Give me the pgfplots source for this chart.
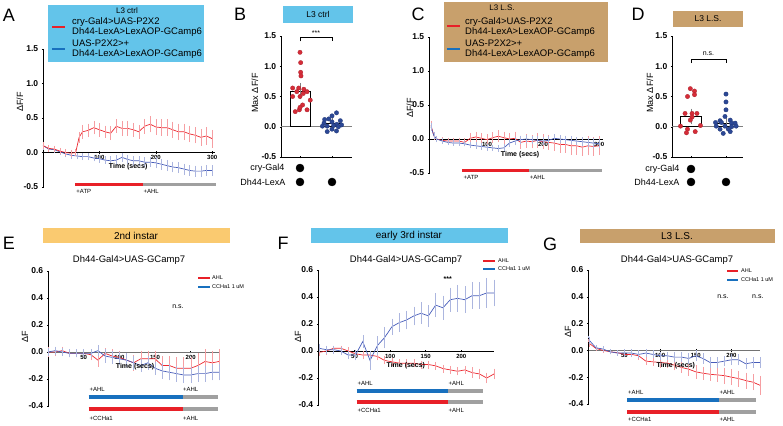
\documentclass[border=0pt]{standalone}
\usepackage{fontspec}
\setmainfont{Liberation Sans}
\usepackage{pgfplots}
\pgfplotsset{compat=1.18}
\definecolor{skyb}{RGB}{99,196,234}
\definecolor{tanb}{RGB}{200,160,108}
\definecolor{orab}{RGB}{250,202,112}
\definecolor{lred}{RGB}{232,32,40}
\definecolor{lblue}{RGB}{24,112,190}
\definecolor{tblue}{RGB}{70,92,185}
\definecolor{tred}{RGB}{236,40,48}
\definecolor{gbar}{RGB}{160,160,160}
\definecolor{dotred}{RGB}{214,44,56}
\definecolor{dotblue}{RGB}{44,72,150}
\newcommand{\fs}[1]{\fontsize{#1}{#1}\selectfont}
\pgfplotsset{
  base/.style={scale only axis, clip=false, tick style={black,line width=0.5pt},
    tick align=outside, major tick length=2.5pt,
    /pgf/number format/assume math mode=true,
    yticklabel style={font=\fs{8.5}\bfseries,/pgf/number format/fixed,/pgf/number format/fixed zerofill,/pgf/number format/precision=1}},
  ts/.style={base, axis y line=left, axis x line=middle,
    x axis line style={-,line width=0.6pt}, y axis line style={-,line width=0.7pt},
    xticklabel style={font=\fs{6}\bfseries, yshift=1.5pt}},
  sc/.style={base, axis y line=left, axis x line=bottom,
    x axis line style={-,line width=0.7pt}, y axis line style={-,line width=0.7pt},
    xtick={1,2}, xticklabels={,}, ymin=-0.5, ymax=1.5, ytick={-0.5,0,0.5,1,1.5}},
  rtrace/.style={tred, line width=0.7pt, mark=none, error bars/.cd, y dir=both, y explicit,
    error bar style={tred!45, line width=0.45pt}, error mark options={tred!45, mark size=1.3pt, line width=0.45pt}},
  btrace/.style={tblue, line width=0.7pt, mark=none, error bars/.cd, y dir=both, y explicit,
    error bar style={tblue!45, line width=0.45pt}, error mark options={tblue!45, mark size=1.3pt, line width=0.45pt}},
  rdots/.style={only marks, mark=*, mark size=2.2pt, mark options={fill=dotred, draw=dotred!80!black, line width=0.3pt}},
  bdots/.style={only marks, mark=*, mark size=2.2pt, mark options={fill=dotblue, draw=dotblue!80!black, line width=0.3pt}},
}
\begin{document}
\begin{tikzpicture}
\path[use as bounding box] (0pt,0pt) rectangle (783pt,-425pt);
% ---------- panel letters
\node[font=\fs{18}] at (9pt,-15pt) {A};
\node[font=\fs{18}] at (240pt,-14pt) {B};
\node[font=\fs{18}] at (418pt,-14pt) {C};
\node[font=\fs{18}] at (638pt,-14pt) {D};
\node[font=\fs{18}] at (9pt,-243pt) {E};
\node[font=\fs{18}] at (283pt,-243pt) {F};
\node[font=\fs{18}] at (550pt,-244pt) {G};
% ---------- boxes
\fill[skyb] (48pt,-5pt) rectangle (204pt,-62pt);
\node[font=\fs{8}] at (127pt,-10.5pt) {L3 ctrl};
\draw[lred, line width=1.6pt] (52pt,-27pt) -- (65pt,-27pt);
\draw[lblue, line width=1.6pt] (52pt,-49pt) -- (65pt,-49pt);
\node[anchor=west, font=\fontsize{9.5}{10.5}\selectfont, align=left, inner sep=0pt] at (72pt,-27pt) {cry-Gal4>UAS-P2X2\\Dh44-LexA>LexAOP-GCamp6};
\node[anchor=west, font=\fontsize{9.5}{10.5}\selectfont, align=left, inner sep=0pt] at (72pt,-49pt) {UAS-P2X2>+\\Dh44-LexA>LexAOP-GCamp6};
\fill[tanb] (444pt,-2pt) rectangle (608pt,-62pt);
\node[font=\fs{8}] at (502pt,-8pt) {L3 L.S.};
\draw[lred, line width=1.6pt] (447pt,-26pt) -- (460pt,-26pt);
\draw[lblue, line width=1.6pt] (447pt,-49pt) -- (460pt,-49pt);
\node[anchor=west, font=\fontsize{9.5}{10.5}\selectfont, align=left, inner sep=0pt] at (465pt,-27pt) {cry-Gal4>UAS-P2X2\\Dh44-LexA>LexAOP-GCamp6};
\node[anchor=west, font=\fontsize{9.5}{10.5}\selectfont, align=left, inner sep=0pt] at (465pt,-49pt) {UAS-P2X2>+\\Dh44-LexA>LexAOP-GCamp6};
\fill[skyb] (283pt,-6pt) rectangle (353pt,-23pt);
\node[font=\fs{8.5}] at (318pt,-14.5pt) {L3 ctrl};
\fill[tanb] (673pt,-11pt) rectangle (743pt,-27pt);
\node[font=\fs{8.5}] at (708pt,-19pt) {L3 L.S.};
\fill[orab] (43pt,-228pt) rectangle (230pt,-243pt);
\node[font=\fs{10}] at (136pt,-235.5pt) {2nd instar};
\fill[skyb] (311pt,-228pt) rectangle (508pt,-243pt);
\node[font=\fs{10}] at (409pt,-235.5pt) {early 3rd instar};
\fill[tanb] (580pt,-229pt) rectangle (775pt,-243pt);
\node[font=\fs{10}] at (677pt,-236pt) {L3 L.S.};
% ---------- titles and axis labels
\node[font=\fs{9.5}] at (129pt,-260pt) {Dh44-Gal4>UAS-GCamp7};
\node[font=\fs{9.5}] at (406pt,-260pt) {Dh44-Gal4>UAS-GCamp7};
\node[font=\fs{9.5}] at (677pt,-260pt) {Dh44-Gal4>UAS-GCamp7};
\node[font=\fs{9}, rotate=90] at (20pt,-102pt) {ΔF/F};
\node[font=\fs{9}, rotate=90] at (410pt,-108pt) {ΔF/F};
\node[font=\fs{9}, rotate=90] at (255pt,-93pt) {Max ΔF/F};
\node[font=\fs{9}, rotate=90] at (650pt,-93pt) {Max ΔF/F};
\node[font=\fs{9}, rotate=90] at (25pt,-337pt) {ΔF};
\node[font=\fs{9}, rotate=90] at (298pt,-337pt) {ΔF};
\node[font=\fs{9}, rotate=90] at (568pt,-332pt) {ΔF};
% genotype labels
\node[anchor=east, font=\fs{9}] at (288pt,-168pt) {cry-Gal4};
\node[anchor=east, font=\fs{9}] at (289pt,-182pt) {Dh44-LexA};
\node[anchor=east, font=\fs{9}] at (683pt,-169pt) {cry-Gal4};
\node[anchor=east, font=\fs{9}] at (683pt,-182pt) {Dh44-LexA};
% small legends E F G
\draw[lred, line width=1.6pt] (198pt,-278pt) -- (210pt,-278pt);
\draw[lblue, line width=1.6pt] (198pt,-287pt) -- (210pt,-287pt);
\node[anchor=west, font=\fs{5.5}, inner sep=1pt] at (211pt,-278pt) {AHL};
\node[anchor=west, font=\fs{5.5}, inner sep=1pt] at (211pt,-287pt) {CCHa1 1 uM};
\draw[lred, line width=1.6pt] (483pt,-261pt) -- (495pt,-261pt);
\draw[lblue, line width=1.6pt] (483pt,-269pt) -- (495pt,-269pt);
\node[anchor=west, font=\fs{5.5}, inner sep=1pt] at (497pt,-261pt) {AHL};
\node[anchor=west, font=\fs{5.5}, inner sep=1pt] at (497pt,-269pt) {CCHa1 1 uM};
\draw[lred, line width=1.6pt] (727pt,-271pt) -- (738pt,-271pt);
\draw[lblue, line width=1.6pt] (727pt,-280pt) -- (738pt,-280pt);
\node[anchor=west, font=\fs{5.5}, inner sep=1pt] at (740pt,-271pt) {AHL};
\node[anchor=west, font=\fs{5.5}, inner sep=1pt] at (740pt,-280pt) {CCHa1 1 uM};

% ================= A
\begin{axis}[ts, at={(43pt,-187pt)}, anchor=south west, width=172pt, height=138pt,
  xmin=0, xmax=305, ymin=-0.5, ymax=1.5, ytick={-0.5,0,0.5,1,1.5}, xtick={100,200,300}]
\addplot[btrace] table[x=t,y=v,y error=e] {
t v e
0 0.10 0.04
10 0.05 0.03
20 0.04 0.03
30 0.01 0.03
40 -0.02 0.03
50 -0.04 0.03
60 -0.05 0.03
70 -0.06 0.03
80 -0.06 0.03
90 -0.08 0.03
100 -0.09 0.04
110 -0.11 0.04
120 -0.12 0.05
130 -0.11 0.05
140 -0.07 0.05
150 -0.10 0.05
160 -0.12 0.05
170 -0.12 0.05
180 -0.14 0.05
190 -0.14 0.05
200 -0.15 0.06
210 -0.17 0.06
220 -0.19 0.06
230 -0.21 0.06
240 -0.22 0.06
250 -0.24 0.06
260 -0.26 0.06
270 -0.27 0.06
280 -0.27 0.06
290 -0.26 0.06
300 -0.26 0.06
};
\addplot[rtrace] table[x=t,y=v,y error=e] {
t v e
0 0.10 0.03
10 0.06 0.03
20 0.05 0.03
30 0.02 0.03
40 0.00 0.03
50 -0.01 0.03
58 0.00 0.03
64 0.22 0.06
70 0.30 0.08
80 0.32 0.08
90 0.36 0.08
100 0.33 0.08
110 0.30 0.07
120 0.28 0.08
130 0.38 0.08
140 0.35 0.09
150 0.35 0.09
160 0.33 0.08
170 0.30 0.08
180 0.38 0.09
190 0.41 0.10
200 0.37 0.10
210 0.36 0.10
220 0.36 0.10
230 0.33 0.10
240 0.30 0.10
250 0.30 0.10
260 0.27 0.10
270 0.25 0.10
280 0.22 0.10
290 0.24 0.11
300 0.20 0.11
};
\addplot[lred, line width=3pt] coordinates {(57,-0.457) (177,-0.457)};
\addplot[gbar, line width=3pt] coordinates {(177,-0.457) (307,-0.457)};
\node[anchor=west, font=\fs{6}, inner sep=0pt] at (axis cs:59,-0.57) {+ATP};
\node[anchor=west, font=\fs{6}, inner sep=0pt] at (axis cs:178,-0.57) {+AHL};
\node[font=\fs{7}\bfseries] at (axis cs:151,-0.21) {Time (secs)};
\end{axis}

% ================= B
\begin{axis}[sc, at={(281pt,-157pt)}, anchor=south west, width=71pt, height=121pt,
  xmin=0.406, xmax=2.625]
\addplot[gray, line width=0.9pt] coordinates {(0.406,0) (2.625,0)};
\addplot[ybar, bar width=20pt, bar shift=0pt, fill=white, draw=black, line width=0.8pt,
  error bars/.cd, y dir=both, y explicit, error bar style={gray, line width=0.5pt}, error mark options={gray, mark size=4pt}]
  coordinates {(1,0.59) +- (0,0.07) (2,0.05) +- (0,0.025)};
\addplot[rdots] coordinates {(1.0,1.23) (1.02,1.06) (1.02,0.90) (1.03,0.84) (0.77,0.64) (0.96,0.64) (1.12,0.62) (1.22,0.58) (0.77,0.50) (1.0,0.50) (1.32,0.44) (1.08,0.36) (0.85,0.25) (0.98,0.28) (1.22,0.28) (1.0,0.32) (1.1,0.55) (0.9,0.58)};
\addplot[bdots] coordinates {(2.14,0.23) (2.0,0.18) (1.77,0.12) (1.9,0.13) (2.26,0.10) (1.75,0.06) (2.0,0.08) (2.15,0.04) (1.85,0.01) (2.2,0.0) (2.0,-0.04) (1.85,-0.08) (2.14,-0.07) (1.7,0.01) (2.3,0.03) (2.05,0.02)};
\addplot[black, line width=0.6pt] coordinates {(1,1.41) (1,1.48) (2,1.48) (2,1.41)};
\node[font=\fs{7}] at (axis cs:1.5,1.55) {***};
\addplot[only marks, mark=*, mark size=4pt, black] coordinates {(1,-0.682)};
\addplot[only marks, mark=*, mark size=4pt, black] coordinates {(1,-0.913) (2,-0.913)};
\end{axis}

% ================= C
\begin{axis}[ts, at={(429pt,-173pt)}, anchor=south west, width=174pt, height=136pt,
  xmin=-3.6, xmax=307, ymin=-0.5, ymax=1.5, ytick={-0.5,0,0.5,1,1.5}, xtick={100,200,300}]
\addplot[rtrace] table[x=t,y=v,y error=e] {
t v e
0 0.20 0.05
5 0.05 0.04
10 0.00 0.03
20 -0.02 0.03
30 -0.03 0.03
40 -0.03 0.03
50 -0.03 0.03
60 -0.05 0.04
70 0.01 0.06
80 0.03 0.06
90 0.01 0.06
100 -0.01 0.06
110 0.02 0.06
120 0.04 0.07
130 0.02 0.07
140 0.00 0.07
150 0.01 0.08
160 -0.05 0.08
170 -0.03 0.08
180 -0.04 0.08
190 -0.02 0.09
200 -0.04 0.09
210 -0.05 0.09
220 -0.06 0.10
230 -0.08 0.10
240 -0.08 0.10
250 -0.10 0.11
260 -0.10 0.11
270 -0.12 0.11
280 -0.10 0.12
290 -0.11 0.12
300 -0.10 0.12
};
\addplot[btrace] table[x=t,y=v,y error=e] {
t v e
0 0.18 0.04
5 0.05 0.03
10 0.00 0.02
20 -0.03 0.02
30 -0.05 0.02
40 -0.06 0.02
50 -0.06 0.02
60 -0.07 0.02
70 -0.09 0.03
80 -0.10 0.03
90 -0.11 0.03
100 -0.12 0.03
110 -0.13 0.03
120 -0.14 0.03
130 -0.13 0.04
140 -0.06 0.04
150 -0.03 0.04
160 -0.01 0.04
170 0.00 0.04
180 -0.01 0.04
190 -0.02 0.04
200 -0.03 0.04
210 -0.02 0.04
220 0.01 0.04
230 0.00 0.04
240 -0.01 0.04
250 -0.02 0.04
260 -0.03 0.04
270 -0.04 0.05
280 -0.05 0.05
290 -0.06 0.05
300 -0.07 0.05
};
\addplot[lred, line width=3pt] coordinates {(55,-0.456) (175,-0.456)};
\addplot[gbar, line width=3pt] coordinates {(175,-0.456) (305,-0.456)};
\node[anchor=west, font=\fs{6}, inner sep=0pt] at (axis cs:58,-0.56) {+ATP};
\node[anchor=west, font=\fs{6}, inner sep=0pt] at (axis cs:176,-0.56) {+AHL};
\node[font=\fs{7}\bfseries] at (axis cs:159,-0.235) {Time (secs)};
\end{axis}

% ================= D
\begin{axis}[sc, at={(672pt,-157pt)}, anchor=south west, width=71pt, height=121pt,
  xmin=0.457, xmax=2.486]
\addplot[gray, line width=0.9pt] coordinates {(0.457,0) (2.486,0)};
\addplot[ybar, bar width=21pt, bar shift=0pt, fill=white, draw=black, line width=0.8pt,
  error bars/.cd, y dir=both, y explicit, error bar style={gray, line width=0.5pt}, error mark options={gray, mark size=4pt}]
  coordinates {(1,0.17) +- (0,0.065) (2,0.06) +- (0,0.04)};
\addplot[rdots] coordinates {(0.98,0.63) (1.1,0.59) (0.9,0.50) (1.1,0.53) (0.83,0.22) (1.03,0.22) (1.17,0.22) (1.03,0.16) (0.7,0.01) (1.27,0.02) (0.9,-0.04) (0.87,-0.10) (1.12,-0.08) (0.98,0.11)};
\addplot[bdots] coordinates {(2.0,0.54) (2.0,0.41) (2.0,0.28) (1.97,0.17) (1.83,0.10) (2.12,0.11) (1.7,0.07) (1.87,0.07) (2.16,0.06) (2.26,0.06) (1.72,0.01) (1.97,0.01) (2.16,0.0) (2.29,0.01) (1.83,-0.04) (2.07,-0.04) (1.92,-0.11) (2.12,-0.08)};
\addplot[black, line width=0.6pt] coordinates {(1,1.05) (1,1.11) (2,1.11) (2,1.05)};
\node[font=\fs{7}] at (axis cs:1.5,1.2) {n.s.};
\addplot[only marks, mark=*, mark size=4pt, black] coordinates {(1,-0.698)};
\addplot[only marks, mark=*, mark size=4pt, black] coordinates {(1,-0.913) (2,-0.913)};
\end{axis}

% ================= E
\begin{axis}[ts, at={(48pt,-406pt)}, anchor=south west, width=172pt, height=135pt,
  xmin=0, xmax=241, ymin=-0.4, ymax=0.6, ytick={-0.4,-0.2,0,0.2,0.4,0.6}, xtick={50,100,150,200},
  x axis line style={black!55, line width=1pt}]
\addplot[rtrace] table[x=t,y=v,y error=e] {
t v e
0 0.00 0.03
10 0.00 0.02
20 0.01 0.02
30 -0.01 0.02
40 -0.01 0.02
50 -0.01 0.02
60 -0.02 0.03
70 -0.06 0.04
80 -0.01 0.03
90 -0.03 0.04
100 -0.04 0.04
110 -0.06 0.04
120 -0.08 0.05
130 -0.05 0.05
140 -0.05 0.05
150 -0.05 0.05
160 -0.10 0.06
170 -0.10 0.06
180 -0.12 0.07
190 -0.12 0.07
200 -0.12 0.07
210 -0.10 0.08
220 -0.07 0.08
230 -0.08 0.08
240 -0.07 0.08
};
\addplot[btrace] table[x=t,y=v,y error=e] {
t v e
0 0.00 0.02
10 0.01 0.02
20 0.00 0.02
30 -0.01 0.02
40 -0.01 0.02
50 -0.01 0.02
60 -0.01 0.02
70 0.01 0.03
80 -0.03 0.04
90 -0.04 0.04
100 -0.05 0.04
110 -0.06 0.04
120 -0.08 0.04
130 -0.10 0.04
140 -0.08 0.04
150 -0.12 0.04
160 -0.14 0.05
170 -0.15 0.05
180 -0.16 0.05
190 -0.17 0.05
200 -0.17 0.05
210 -0.16 0.05
220 -0.16 0.05
230 -0.15 0.05
240 -0.15 0.05
};
\addplot[lblue, line width=4pt] coordinates {(57,-0.333) (189,-0.333)};
\addplot[gbar, line width=4pt] coordinates {(189,-0.333) (238,-0.333)};
\addplot[lred, line width=4pt] coordinates {(57,-0.422) (189,-0.422)};
\addplot[gbar, line width=4pt] coordinates {(189,-0.422) (238,-0.422)};
\node[anchor=west, font=\fs{6}, inner sep=0pt] at (axis cs:58,-0.274) {+AHL};
\node[anchor=west, font=\fs{6}, inner sep=0pt] at (axis cs:189,-0.274) {+AHL};
\node[anchor=west, font=\fs{6}, inner sep=0pt] at (axis cs:58,-0.489) {+CCHa1};
\node[anchor=west, font=\fs{6}, inner sep=0pt] at (axis cs:189,-0.489) {+AHL};
\node[font=\fs{7}\bfseries] at (axis cs:122,-0.111) {Time (secs)};
\node[font=\fs{7}] at (axis cs:182,0.333) {n.s.};
\end{axis}

% ================= F
\begin{axis}[ts, at={(318pt,-405pt)}, anchor=south west, width=176pt, height=135pt,
  xmin=-1.4, xmax=246, ymin=-0.4, ymax=0.6, ytick={-0.4,-0.2,0,0.2,0.4,0.6}, xtick={50,100,150,200}]
\addplot[rtrace] table[x=t,y=v,y error=e] {
t v e
0 -0.01 0.02
10.25 0.00 0.02
20.5 0.02 0.01
30.75 0.02 0.01
41 0.00 0.02
51.25 -0.02 0.02
61.5 -0.03 0.02
71.75 -0.03 0.02
82 -0.04 0.02
92.25 -0.07 0.02
102.5 -0.08 0.02
112.75 -0.09 0.02
123 -0.09 0.02
133.25 -0.09 0.02
143.5 -0.10 0.02
153.75 -0.10 0.02
164 -0.11 0.02
174.25 -0.13 0.02
184.5 -0.14 0.02
194.75 -0.15 0.02
205 -0.14 0.02
215.25 -0.16 0.03
225.5 -0.17 0.03
235.75 -0.20 0.03
246 -0.17 0.03
};
\addplot[btrace] table[x=t,y=v,y error=e] {
t v e
0 0.02 0.02
10.25 0.01 0.02
20.5 0.01 0.02
30.75 0.00 0.02
41 -0.03 0.02
51.25 -0.03 0.03
61.5 0.07 0.04
71.75 -0.07 0.06
82 0.04 0.06
92.25 0.10 0.07
102.5 0.18 0.05
112.75 0.21 0.06
123 0.23 0.06
133.25 0.26 0.06
143.5 0.28 0.07
153.75 0.26 0.07
164 0.34 0.08
174.25 0.32 0.08
184.5 0.38 0.08
194.75 0.39 0.09
205 0.38 0.09
215.25 0.41 0.09
225.5 0.41 0.09
235.75 0.43 0.10
246 0.43 0.09
};
\addplot[lblue, line width=4pt] coordinates {(53,-0.296) (182,-0.296)};
\addplot[gbar, line width=4pt] coordinates {(182,-0.296) (231,-0.296)};
\addplot[lred, line width=4pt] coordinates {(53,-0.378) (182,-0.378)};
\addplot[gbar, line width=4pt] coordinates {(182,-0.378) (231,-0.378)};
\node[anchor=west, font=\fs{6}, inner sep=0pt] at (axis cs:54,-0.237) {+AHL};
\node[anchor=west, font=\fs{6}, inner sep=0pt] at (axis cs:182,-0.237) {+AHL};
\node[anchor=west, font=\fs{6}, inner sep=0pt] at (axis cs:54,-0.437) {+CCHa1};
\node[anchor=west, font=\fs{6}, inner sep=0pt] at (axis cs:182,-0.437) {+AHL};
\node[font=\fs{7}\bfseries] at (axis cs:122,-0.111) {Time (secs)};
\node[font=\fs{7}\bfseries] at (axis cs:181,0.53) {***};
\end{axis}

% ================= G
\begin{axis}[ts, at={(588pt,-404pt)}, anchor=south west, width=172pt, height=134pt,
  xmin=-1, xmax=240, ymin=-0.4, ymax=0.6, ytick={-0.4,-0.2,0,0.2,0.4,0.6}, xtick={50,100,150,200},
  x axis line style={black!55, line width=1pt}]
\addplot[rtrace] table[x=t,y=v,y error=e] {
t v e
0 0.056 0.02
10 0.015 0.01
20 0.00 0.01
30 -0.01 0.01
40 -0.017 0.01
50 -0.03 0.01
60 -0.03 0.01
70 -0.04 0.02
80 -0.08 0.02
90 -0.085 0.02
100 -0.09 0.03
110 -0.095 0.03
120 -0.11 0.03
130 -0.127 0.03
140 -0.14 0.04
150 -0.16 0.04
160 -0.17 0.04
170 -0.178 0.04
180 -0.183 0.04
190 -0.188 0.05
200 -0.20 0.05
210 -0.21 0.05
220 -0.225 0.05
230 -0.237 0.05
240 -0.26 0.06
};
\addplot[btrace] table[x=t,y=v,y error=e] {
t v e
0 0.08 0.02
10 0.02 0.01
20 0.01 0.01
30 -0.01 0.01
40 -0.02 0.01
50 -0.02 0.02
60 -0.02 0.02
70 -0.03 0.02
80 -0.02 0.02
90 -0.03 0.02
100 -0.04 0.02
110 -0.04 0.02
120 -0.05 0.03
130 -0.05 0.03
140 -0.06 0.03
150 -0.04 0.03
160 -0.06 0.03
170 -0.09 0.03
180 -0.09 0.03
190 -0.08 0.03
200 -0.07 0.03
210 -0.07 0.03
220 -0.10 0.03
230 -0.09 0.03
240 -0.09 0.03
};
\addplot[lblue, line width=4pt] coordinates {(54,-0.37) (182,-0.37)};
\addplot[gbar, line width=4pt] coordinates {(182,-0.37) (235,-0.37)};
\addplot[lred, line width=4pt] coordinates {(54,-0.46) (182,-0.46)};
\addplot[gbar, line width=4pt] coordinates {(182,-0.46) (235,-0.46)};
\node[anchor=west, font=\fs{6}, inner sep=0pt] at (axis cs:55,-0.31) {+AHL};
\node[anchor=west, font=\fs{6}, inner sep=0pt] at (axis cs:183,-0.31) {+AHL};
\node[anchor=west, font=\fs{6}, inner sep=0pt] at (axis cs:55,-0.515) {+CCHa1};
\node[anchor=west, font=\fs{6}, inner sep=0pt] at (axis cs:183,-0.515) {+AHL};
\node[font=\fs{7}\bfseries] at (axis cs:122,-0.116) {Time (secs)};
\node[font=\fs{7}] at (axis cs:188,0.4) {n.s.};
\node[font=\fs{7}] at (axis cs:237,0.4) {n.s.};
\end{axis}
\end{tikzpicture}
\end{document}
